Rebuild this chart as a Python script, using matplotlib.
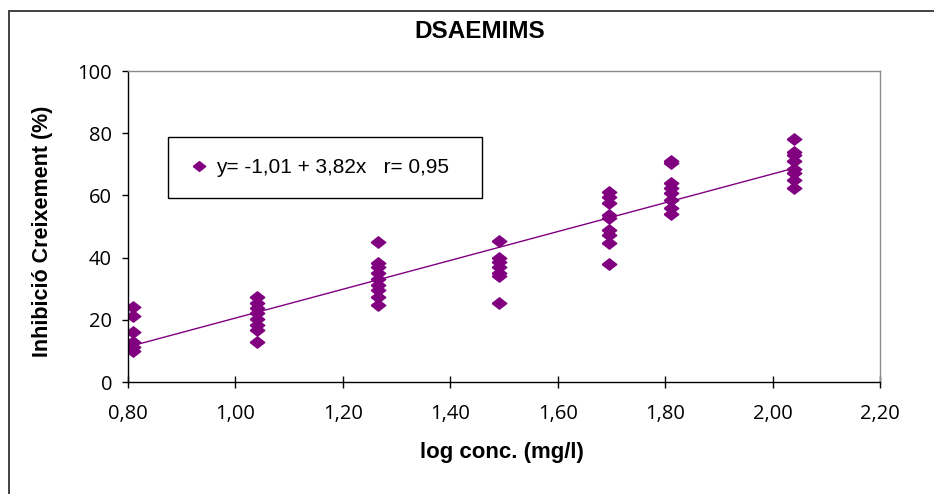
import numpy as np
import matplotlib
matplotlib.use("Agg")
import matplotlib.pyplot as plt
from matplotlib.lines import Line2D
from matplotlib.patches import Rectangle

# log concentration of each group and the measured inhibition (%)
log_conc = [0.81, 1.04, 1.265, 1.49, 1.695, 1.81, 2.04]
inhibition = [
    [24.0, 21.2, 16.2, 13.0, 11.4, 10.0],
    [27.2, 25.5, 23.7, 22.1, 20.2, 18.3, 16.7, 13.0],
    [44.9, 38.4, 37.1, 35.0, 33.0, 31.2, 29.6, 27.2, 24.8],
    [45.4, 40.0, 38.5, 37.0, 35.0, 34.0, 25.3],
    [61.2, 59.6, 57.5, 53.7, 52.6, 48.9, 47.3, 44.6, 37.9],
    [71.2, 70.3, 63.9, 62.3, 60.7, 58.5, 55.9, 54.0],
    [78.0, 74.1, 73.0, 71.1, 68.4, 67.1, 65.0, 62.3],
]
x_ticks = [0.80, 1.00, 1.20, 1.40, 1.60, 1.80, 2.00, 2.20]
y_ticks = [0, 20, 40, 60, 80, 100]
legend_label = "y= -1,01 + 3,82x   r= 0,95"

purple = "#800080"
diamond = [(-1, 0), (0, 0.78), (1, 0), (0, -0.78), (-1, 0)]

x = np.concatenate([[lc] * len(v) for lc, v in zip(log_conc, inhibition)])
y = np.concatenate(inhibition)
slope, icpt = np.polyfit(x, y, 1)
xl = np.array([min(log_conc), max(log_conc)])

fig = plt.figure(figsize=(9.34, 4.94), dpi=100)
W, H = 934, 494
ax = fig.add_axes([128 / W, 1 - 382 / H, 752 / W, 311 / H])

ax.plot(x, y, linestyle="none", marker=diamond, ms=10.5, color=purple, mec=purple)
ax.plot(xl, icpt + slope * xl, color=purple, lw=1)

ax.set_xlim(0.80, 2.20)
ax.set_ylim(0, 100)
ax.set_xticks(x_ticks)
ax.set_yticks(y_ticks)
ax.set_xticklabels([f"{t:.2f}".replace(".", ",") for t in x_ticks])
ax.set_yticklabels([str(t) for t in y_ticks])
for lab in ax.get_xticklabels() + ax.get_yticklabels():
    lab.set_fontfamily(["Open Sans", "DejaVu Sans"])
    lab.set_fontsize(14.5)
ax.tick_params(axis="x", direction="inout", length=9, width=1, pad=11)
ax.tick_params(axis="y", direction="out", length=4.5, width=1, pad=7)

for s in ["left", "bottom"]:
    ax.spines[s].set_color("black")
    ax.spines[s].set_linewidth(1)
for s in ["top", "right"]:
    ax.spines[s].set_color("#8c8c8c")
    ax.spines[s].set_linewidth(1)

handle = Line2D([], [], linestyle="none", marker=diamond, ms=9, color=purple)
leg = ax.legend([handle], [legend_label], loc="upper left",
                bbox_to_anchor=(40 / 752, 187 / 311, 314 / 752, 58 / 311),
                mode="expand", fancybox=False, framealpha=1, edgecolor="black",
                borderaxespad=0, handletextpad=0.3, handlelength=1.0,
                borderpad=1.0, prop={"family": "Liberation Sans", "size": 15})
leg.get_frame().set_linewidth(1)

bold = {"family": "Liberation Sans", "weight": "bold"}
fig.text(479.5 / W, 1 - 31 / H, "DSAEMIMS", ha="center", va="center", size=17.5, **bold)
fig.text(502 / W, 1 - 452 / H, "log conc. (mg/l)", ha="center", va="center", size=16, **bold)
fig.text(43 / W, 1 - 231 / H, "Inhibició Creixement (%)", ha="center", va="center",
         rotation=90, size=15.5, **bold)

fig.patches.append(Rectangle((9 / W, -0.05), 1.1, 1 - 11 / H + 0.05, transform=fig.transFigure,
                             fill=False, edgecolor="#333333", linewidth=1.3))

fig.savefig("out.png", dpi=100)
